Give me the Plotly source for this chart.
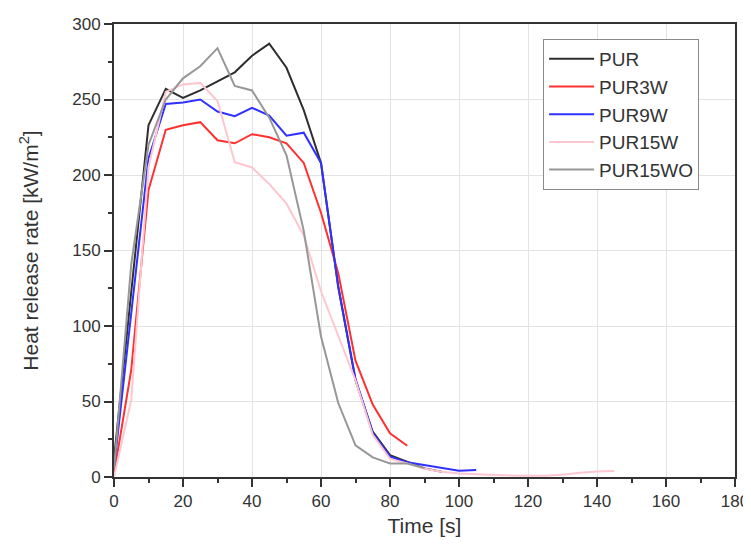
"""Heat release rate curves for PUR foams."""

import plotly.graph_objects as go

COLOR_TEXT = "#333333"
COLOR_GRID = "#e3e3e3"

# time axes (s) for each curve
TIME_PUR = [0, 5, 10, 15, 20, 25, 30, 35, 40, 45, 50, 55, 60, 65, 70, 75, 80, 85, 90, 95]
TIME_PUR3W = [0, 5, 10, 15, 20, 25, 30, 35, 40, 45, 50, 55, 60, 65, 70, 75, 80, 85]
TIME_PUR9W = [0, 5, 10, 15, 20, 25, 30, 35, 40, 45, 50, 55, 60, 65, 70, 75, 80, 85, 90, 95, 100, 105]
TIME_PUR15W = [0, 5, 10, 15, 20, 25, 30, 35, 40, 45, 50, 55, 60, 65, 70, 75, 80, 85, 90, 95,
               100, 105, 110, 115, 120, 125, 130, 135, 140, 145]
TIME_PUR15WO = [0, 5, 10, 15, 20, 25, 30, 35, 40, 45, 50, 55, 60, 65, 70, 75, 80, 85, 90]

# heat release rate (kW/m2)
HRR_PUR = [12, 121, 233, 257, 251, 256, 262, 268, 279, 287, 271, 243, 208, 126, 64, 30, 14.5, 10, 5.7, 3.5]
HRR_PUR3W = [2, 71, 190, 230, 233, 235, 223, 221, 227, 225, 221, 208, 175, 135, 77, 48, 29, 20.7]
HRR_PUR9W = [6, 110, 211, 247, 248, 250, 242, 239, 244.5, 239.4, 226, 228, 208, 126, 65, 29, 13.5, 9.7,
             7.9, 6.4, 4.2, 4.6]
HRR_PUR15W = [0, 51, 205, 255, 260, 261, 249, 208.5, 205, 194, 181, 160, 123, 94, 64, 28, 12, 9, 5.5, 3.5,
              2.4, 1.8, 1.3, 1, 0.8, 0.8, 1.5, 2.8, 3.6, 4]
HRR_PUR15WO = [5, 141, 220, 250, 264, 272, 284, 259, 256, 238, 213, 163, 93, 49, 21, 13, 9, 9, 6]

SERIES = [
    ("PUR", TIME_PUR, HRR_PUR, "#2e2e2e"),
    ("PUR3W", TIME_PUR3W, HRR_PUR3W, "#ff3030"),
    ("PUR9W", TIME_PUR9W, HRR_PUR9W, "#3030ff"),
    ("PUR15W", TIME_PUR15W, HRR_PUR15W, "#ffc6d0"),
    ("PUR15WO", TIME_PUR15WO, HRR_PUR15WO, "#979797"),
]

fig = go.Figure()
for name, t, hrr, color in SERIES:
    fig.add_trace(
        go.Scatter(x=t, y=hrr, mode="lines", name=name, line={"color": color, "width": 2})
    )

axis_common = {
    "automargin": False,
    "showline": True,
    "linecolor": COLOR_TEXT,
    "linewidth": 1.8,
    "mirror": True,
    "ticks": "outside",
    "ticklen": 8,
    "tickwidth": 1.8,
    "tickcolor": COLOR_TEXT,
    "showgrid": True,
    "gridcolor": COLOR_GRID,
    "gridwidth": 1.2,
    "zeroline": False,
    "tickfont": {"size": 17, "color": COLOR_TEXT},
}

# page body adds an 8px offset, so the figure is 8px smaller than the window
fig.update_layout(
    width=743,
    height=539,
    paper_bgcolor="#ffffff",
    plot_bgcolor="#ffffff",
    font={"family": "Liberation Sans, Arial, sans-serif", "color": COLOR_TEXT},
    margin={"l": 106, "r": 16, "t": 16, "b": 70},
    showlegend=True,
    legend={
        "x": 0.691,
        "y": 0.967,
        "xanchor": "left",
        "yanchor": "top",
        "bordercolor": "#8a8a8a",
        "borderwidth": 1,
        "bgcolor": "#ffffff",
        "font": {"size": 19, "color": COLOR_TEXT},
        "itemwidth": 45,
        "tracegroupgap": 0,
    },
)
fig.update_xaxes(
    **axis_common,
    range=[0, 180],
    dtick=20,
    minor={"dtick": 10, "ticks": "outside", "ticklen": 4, "tickcolor": COLOR_TEXT, "showgrid": False},
    title={"text": "Time [s]", "standoff": 8, "font": {"size": 21, "color": COLOR_TEXT}},
)
fig.update_yaxes(
    **axis_common,
    range=[0, 300],
    dtick=50,
    minor={"dtick": 25, "ticks": "outside", "ticklen": 4, "tickcolor": COLOR_TEXT, "showgrid": False},
    title={"text": "Heat release rate [kW/m<sup>2</sup>]", "standoff": 28,
           "font": {"size": 21, "color": COLOR_TEXT}},
)

fig.write_html("out.html")
